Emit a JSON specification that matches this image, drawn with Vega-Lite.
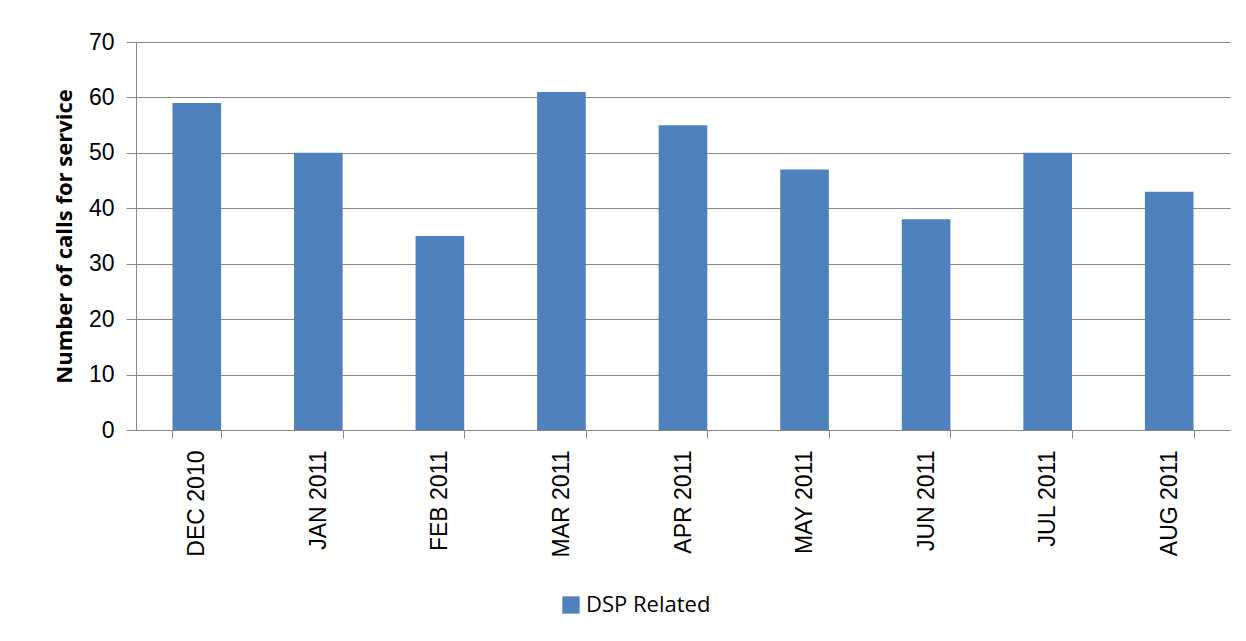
{
  "$schema": "https://vega.github.io/schema/vega-lite/v6.json",
  "autosize": {"type": "none"},
  "padding": {"left": 136, "top": 42, "right": 16, "bottom": 211},
  "width": 1094,
  "height": 388,
  "background": "white",
  "data": {
    "values": [
      {"month": "DEC 2010", "calls": 59, "series": "DSP Related"},
      {"month": "JAN 2011", "calls": 50, "series": "DSP Related"},
      {"month": "FEB 2011", "calls": 35, "series": "DSP Related"},
      {"month": "MAR 2011", "calls": 61, "series": "DSP Related"},
      {"month": "APR 2011", "calls": 55, "series": "DSP Related"},
      {"month": "MAY 2011", "calls": 47, "series": "DSP Related"},
      {"month": "JUN 2011", "calls": 38, "series": "DSP Related"},
      {"month": "JUL 2011", "calls": 50, "series": "DSP Related"},
      {"month": "AUG 2011", "calls": 43, "series": "DSP Related"}
    ]
  },
  "mark": {"type": "bar"},
  "encoding": {
    "x": {
      "field": "month",
      "type": "nominal",
      "sort": null,
      "scale": {"paddingInner": 0.6, "paddingOuter": 0.3},
      "axis": {
        "title": null,
        "labelAngle": -90,
        "labelAlign": "right",
        "labelBaseline": "middle",
        "labelFont": "Liberation Sans",
        "labelFontSize": 23,
        "labelColor": "#000000",
        "labelPadding": 12,
        "tickBand": "extent",
        "tickSize": 8,
        "tickColor": "#868686",
        "domainColor": "#868686",
        "domainWidth": 1,
        "grid": false
      }
    },
    "y": {
      "field": "calls",
      "type": "quantitative",
      "scale": {"domain": [0, 70], "nice": false},
      "axis": {
        "values": [0, 10, 20, 30, 40, 50, 60, 70],
        "title": "Number of calls for service",
        "titleFont": "Open Sans",
        "titleFontSize": 22,
        "titleFontWeight": "bold",
        "titleColor": "#000000",
        "titlePadding": 12,
        "labelFont": "Liberation Sans",
        "labelFontSize": 23,
        "labelColor": "#000000",
        "labelPadding": 12,
        "tickSize": 10,
        "tickColor": "#868686",
        "domainColor": "#868686",
        "gridColor": "#868686",
        "gridWidth": 1
      }
    },
    "color": {
      "field": "series",
      "type": "nominal",
      "scale": {"range": ["#4F81BD"]},
      "legend": {
        "title": null,
        "orient": "none",
        "legendX": 424,
        "legendY": 552,
        "symbolType": "square",
        "symbolSize": 300,
        "labelFont": "Open Sans",
        "labelFontSize": 22,
        "labelColor": "#000000"
      }
    }
  },
  "config": {"view": {"stroke": null}}
}
